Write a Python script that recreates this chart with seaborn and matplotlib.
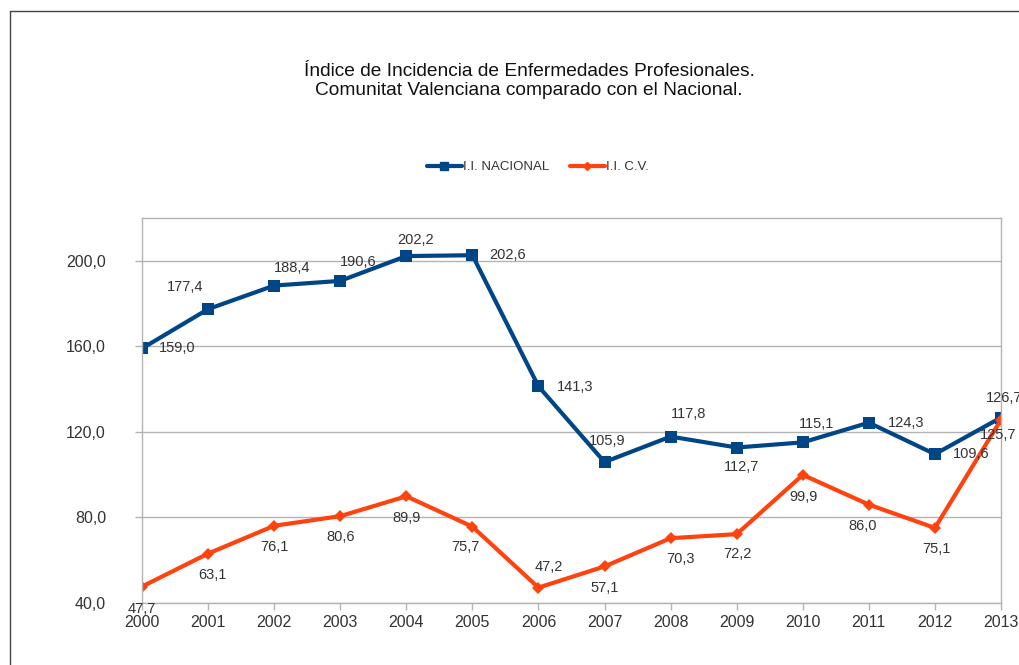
import matplotlib
matplotlib.use("Agg")
import matplotlib.pyplot as plt
from matplotlib.lines import Line2D
import seaborn as sns
import pandas as pd

years = list(range(2000, 2014))
nacional = [159.0, 177.4, 188.4, 190.6, 202.2, 202.6, 141.3, 105.9, 117.8, 112.7, 115.1, 124.3, 109.6, 126.7]
cv = [47.7, 63.1, 76.1, 80.6, 89.9, 75.7, 47.2, 57.1, 70.3, 72.2, 99.9, 86.0, 75.1, 125.7]
series_names = ["I.I. NACIONAL", "I.I. C.V."]
yticks = [40, 80, 120, 160, 200]
title = "Índice de Incidencia de Enfermedades Profesionales.\nComunitat Valenciana comparado con el Nacional."

# label offsets (pixels) relative to each point
off_nac = [(35, 0), (-23, 22), (18, 18), (18, 19), (9, 16), (35, 0), (37, -1), (3, 21),
           (18, 23), (5, -19), (14, 18), (37, 0), (36, 0), (3, 20)]
off_cv = [(0, -22), (4, -21), (0, -21), (0, -21), (0, -22), (-7, -20), (10, 21), (0, -22),
          (10, -21), (1, -20), (1, -22), (-6, -21), (2, -21), (-3, -15)]

sns.set_theme(style="white")
plt.rcParams["font.family"] = ["Liberation Sans", "DejaVu Sans"]

W, H = 1019, 665
fig = plt.figure(figsize=(W / 100, H / 100), dpi=100)
ax = fig.add_axes([142 / W, (H - 603) / H, (1001 - 142) / W, (603 - 218) / H])

df = pd.DataFrame({
    "year": years * 2,
    "value": nacional + cv,
    "serie": [series_names[0]] * len(years) + [series_names[1]] * len(years),
})
colors = {series_names[0]: "#004586", series_names[1]: "#ff420e"}

sns.lineplot(data=df[df.serie == series_names[0]], x="year", y="value", ax=ax,
             color=colors[series_names[0]], lw=3.0, marker="s", markersize=8,
             markeredgewidth=0, label=series_names[0], legend=False)
sns.lineplot(data=df[df.serie == series_names[1]], x="year", y="value", ax=ax,
             color=colors[series_names[1]], lw=3.0, marker="D", markersize=6.5,
             markeredgewidth=0, label=series_names[1], legend=False)

ax.set_xlim(2000, 2013)
ax.set_ylim(40, 220)
ax.set_yticks(yticks)
ax.set_yticklabels([f"{v:.1f}".replace(".", ",") for v in yticks])
ax.set_xticks(years)
ax.set_xticklabels([str(y) for y in years])
ax.set_xlabel("")
ax.set_ylabel("")
ax.grid(axis="y", color="#b3b3b3", lw=1)
ax.grid(axis="x", visible=False)
for s in ax.spines.values():
    s.set_color("#b3b3b3")
    s.set_linewidth(1)
ax.tick_params(axis="both", colors="#b3b3b3", length=5, width=1, direction="out",
               labelcolor="#333333", labelsize=11.5)
ax.tick_params(axis="y", pad=21)
ax.tick_params(axis="x", pad=3.5)
ax.tick_params(bottom=True, left=True)

for data, offs in ((nacional, off_nac), (cv, off_cv)):
    for x, v, (dx, dy) in zip(years, data, offs):
        ax.annotate(f"{v:.1f}".replace(".", ","), (x, v), xytext=(dx * 0.72, dy * 0.72),
                    textcoords="offset points", ha="center", va="center",
                    fontsize=10.5, color="#333333", annotation_clip=False)

fig.text(529 / W, 1 - 81 / H, title, ha="center", va="center", fontsize=13.8,
         color="#111111", linespacing=1.15)

handles = [Line2D([], [], color=colors[series_names[0]], lw=3.0, marker="s", markersize=6),
           Line2D([], [], color=colors[series_names[1]], lw=3.0, marker="D", markersize=4)]
fig.legend(handles, series_names, loc="center", bbox_to_anchor=(538 / W, 1 - 167 / H),
           ncol=2, frameon=False, fontsize=9.5, handlelength=2.6, handletextpad=0.1,
           columnspacing=1.6, labelcolor="#333333")

fig.add_artist(Line2D([10 / W, 10 / W], [0, 1 - 11 / H], color="#444444", lw=1,
                      transform=fig.transFigure))
fig.add_artist(Line2D([10 / W, 1], [1 - 11 / H, 1 - 11 / H], color="#444444", lw=1,
                      transform=fig.transFigure))

fig.savefig("out.png", dpi=100, facecolor="white")
